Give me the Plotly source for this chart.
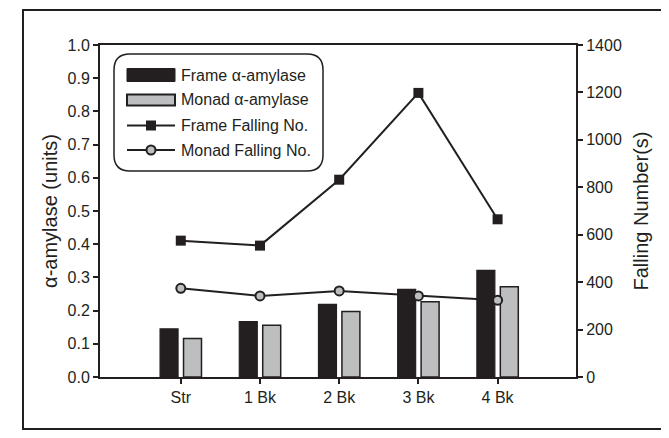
import plotly.graph_objects as go

# ---- data ----
categories = ["Str", "1 Bk", "2 Bk", "3 Bk", "4 Bk"]
frame_amylase = [0.145, 0.167, 0.219, 0.264, 0.321]
monad_amylase = [0.116, 0.156, 0.197, 0.227, 0.272]
frame_falling = [575, 554, 832, 1198, 665]
monad_falling = [374, 342, 363, 342, 324]
left_ticks = [0.0, 0.1, 0.2, 0.3, 0.4, 0.5, 0.6, 0.7, 0.8, 0.9, 1.0]
right_ticks = [0, 200, 400, 600, 800, 1000, 1200, 1400]

DARK = "#231f20"
GRAY = "#bcbec0"
FONT = "Liberation Sans, Arial, sans-serif"

# page body has an 8px margin: the figure is shifted by OFF pixels
OFF = 8
W, H = 669 - OFF, 438 - OFF
ML, MR, MT, MB = 100 - OFF, 93, 45 - OFF, 61
PW, PH = W - ML - MR, H - MT - MB


def px(x):  # page x -> paper
    return (x - OFF - ML) / PW


def py(y):  # page y -> paper
    return (H - MB - (y - OFF)) / PH


fig = go.Figure()
fig.add_trace(go.Bar(x=categories, y=frame_amylase, name="Frame α-amylase",
                     marker=dict(color=DARK, line=dict(color=DARK, width=1.2)),
                     showlegend=False))
fig.add_trace(go.Bar(x=categories, y=monad_amylase, name="Monad α-amylase",
                     marker=dict(color=GRAY, line=dict(color=DARK, width=1.5)),
                     showlegend=False))
fig.add_trace(go.Scatter(x=categories, y=frame_falling, name="Frame Falling No.",
                         yaxis="y2", mode="lines+markers",
                         line=dict(color=DARK, width=2),
                         marker=dict(symbol="square", size=10, color=DARK),
                         showlegend=False))
fig.add_trace(go.Scatter(x=categories, y=monad_falling, name="Monad Falling No.",
                         yaxis="y2", mode="lines+markers",
                         line=dict(color=DARK, width=2),
                         marker=dict(symbol="circle", size=9, color=GRAY,
                                     line=dict(color=DARK, width=2)),
                         showlegend=False))

shapes = []
# outer frame
shapes.append(dict(type="rect", xref="paper", yref="paper",
                   x0=px(23), x1=px(663), y0=py(429), y1=py(10),
                   line=dict(color=DARK, width=2), layer="below"))

# rounded legend box
x0, x1, y0, y1 = 114, 323, 54, 171
r = 16
path = (f"M {px(x0 + r)} {py(y0)} L {px(x1 - r)} {py(y0)} "
        f"Q {px(x1)} {py(y0)} {px(x1)} {py(y0 + r)} "
        f"L {px(x1)} {py(y1 - r)} Q {px(x1)} {py(y1)} {px(x1 - r)} {py(y1)} "
        f"L {px(x0 + r)} {py(y1)} Q {px(x0)} {py(y1)} {px(x0)} {py(y1 - r)} "
        f"L {px(x0)} {py(y0 + r)} Q {px(x0)} {py(y0)} {px(x0 + r)} {py(y0)} Z")
shapes.append(dict(type="path", xref="paper", yref="paper", path=path,
                   line=dict(color=DARK, width=1.5), fillcolor="white"))

rows = [75, 100, 125.5, 150]
sx0, sx1 = 127, 175
# bar symbols
shapes.append(dict(type="rect", xref="paper", yref="paper",
                   x0=px(sx0), x1=px(sx1), y0=py(rows[0] + 6.5), y1=py(rows[0] - 6.5),
                   fillcolor=DARK, line=dict(color=DARK, width=1)))
shapes.append(dict(type="rect", xref="paper", yref="paper",
                   x0=px(sx0), x1=px(sx1), y0=py(rows[1] + 5.5), y1=py(rows[1] - 5.5),
                   fillcolor=GRAY, line=dict(color=DARK, width=2)))
# line symbols
for ry in rows[2:]:
    shapes.append(dict(type="line", xref="paper", yref="paper",
                       x0=px(sx0), x1=px(sx1), y0=py(ry), y1=py(ry),
                       line=dict(color=DARK, width=2)))
cx = (sx0 + sx1) / 2
shapes.append(dict(type="rect", xref="paper", yref="paper",
                   x0=px(cx - 5), x1=px(cx + 5), y0=py(rows[2] + 5), y1=py(rows[2] - 5),
                   fillcolor=DARK, line=dict(color=DARK, width=0)))
shapes.append(dict(type="circle", xref="paper", yref="paper",
                   x0=px(cx - 4.5), x1=px(cx + 4.5), y0=py(rows[3] + 4.5), y1=py(rows[3] - 4.5),
                   fillcolor=GRAY, line=dict(color=DARK, width=2)))

labels = ["Frame α-amylase", "Monad α-amylase", "Frame Falling No.", "Monad Falling No."]
annotations = []
for lab, ry in zip(labels, rows):
    annotations.append(dict(text=lab, xref="paper", yref="paper", x=px(179), y=py(ry),
                            xanchor="left", yanchor="middle", showarrow=False,
                            font=dict(family=FONT, size=16, color=DARK)))

fig.update_layout(
    width=W, height=H,
    margin=dict(l=ML, r=MR, t=MT, b=MB, autoexpand=False),
    paper_bgcolor="white", plot_bgcolor="white",
    font=dict(family=FONT, color=DARK, size=16),
    barmode="group", bargap=0.408, bargroupgap=0.233,
    showlegend=False,
    shapes=shapes, annotations=annotations,
    xaxis=dict(type="category", range=[-1.02, 4.99], showline=True, linewidth=2,
               linecolor=DARK, mirror=True, ticks="outside", ticklen=5, tickwidth=2,
               tickcolor=DARK, showgrid=False, zeroline=False, automargin=False,
               tickfont=dict(size=16, color=DARK)),
    yaxis=dict(range=[0, 1], tickvals=left_ticks,
               ticktext=[f"{v:.1f}" for v in left_ticks],
               showline=True, linewidth=2, linecolor=DARK, ticks="outside",
               ticklen=5, tickwidth=2, tickcolor=DARK, showgrid=False, zeroline=False,
               automargin=False,
               tickfont=dict(size=16, color=DARK),
               title=dict(text="α-amylase (units)", font=dict(size=20, color=DARK),
                          standoff=5)),
    yaxis2=dict(range=[0, 1400], tickvals=right_ticks, overlaying="y", side="right",
                showline=True, linewidth=2, linecolor=DARK, ticks="outside",
                ticklen=5, tickwidth=2, tickcolor=DARK, showgrid=False, zeroline=False,
                automargin=False,
                tickfont=dict(size=16, color=DARK),
                title=dict(text="Falling Number(s)", font=dict(size=20, color=DARK),
                           standoff=13)),
)

fig.write_html("out.html")
